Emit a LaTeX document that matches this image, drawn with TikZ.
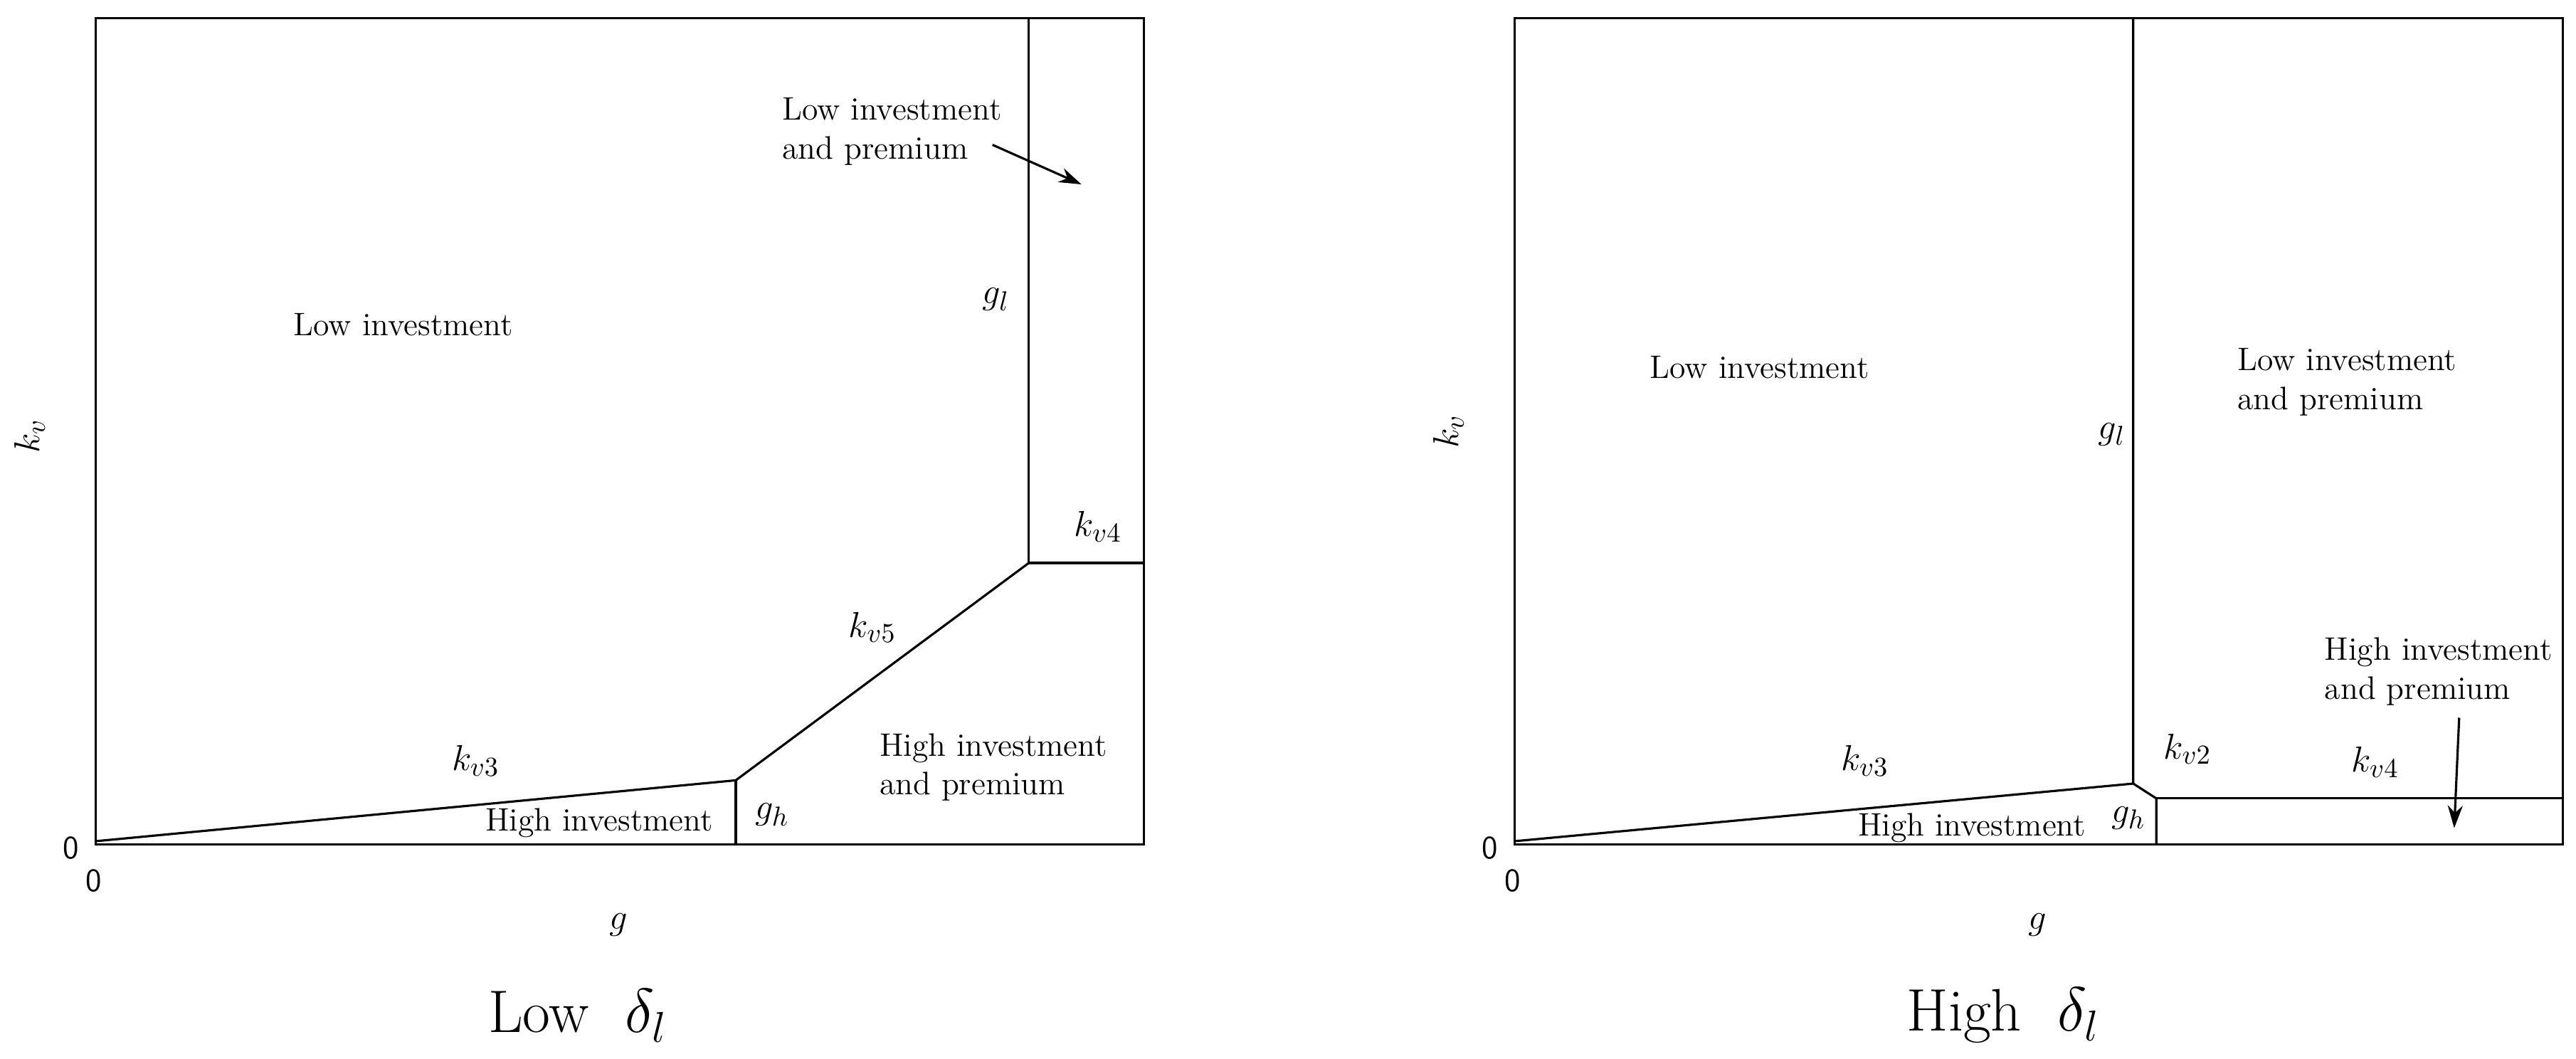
\documentclass[tikz,border=0pt]{standalone}
\usetikzlibrary{arrows.meta}
\begin{document}
\begin{tikzpicture}[x=0.02313cm,y=-0.02313cm,
  lbl/.style={font=\fontsize{13}{15}\selectfont},
  two/.style={font=\fontsize{13}{15.5}\selectfont,align=left,anchor=west},
  ml/.style={font=\fontsize{15}{17}\selectfont},
  zero/.style={font=\sffamily\fontsize{13}{15}\selectfont},
  ttl/.style={font=\fontsize{24}{28}\selectfont},
  ln/.style={line width=0.9pt},
  arr/.style={line width=0.9pt,-{Stealth[length=9pt,width=6pt]}}]
\useasboundingbox (0,0) rectangle (1565,643);
% left panel
\draw[ln] (58,11) rectangle (695,513);
\coordinate (La) at (625,11); \coordinate (Lb) at (625,342); \coordinate (Lc) at (695,342);
\coordinate (Ld) at (447,474); \coordinate (Le) at (58,511); \coordinate (Lf) at (447,513);
\draw[ln] (La) -- (Lb) -- (Lc);
\draw[ln] (Lb) -- (Ld) -- (Le);
\draw[ln] (Ld) -- (Lf);
\node[two] (Llip) at (470,80) {Low investment\\and premium};
\coordinate (Larr) at (657,112);
\draw[arr] (603,88) -- (Larr);
\node[ml] (Lgl) at (605,182) {$g_l$};
\node[lbl] (Lli) at (245,197) {Low investment};
\node[ml,rotate=90] (Lkv) at (18,265) {$k_v$};
\node[ml] (Lk4) at (667,320) {$k_{v4}$};
\node[ml] (Lk5) at (530,381) {$k_{v5}$};
\node[ml] (Lk3) at (289,462) {$k_{v3}$};
\node[lbl] (Lhi) at (364,500) {High investment};
\node[ml] (Lgh) at (469,495) {$g_h$};
\node[two] (Lhip) at (529,466) {High investment\\and premium};
\node[zero] (L0a) at (43,515) {0};
\node[zero] (L0b) at (57,535) {0};
\node[ml] (Lg) at (376,562) {$g$};
\node[ttl] (Lt) at (351,617) {Low\ \ $\delta_l$};
% right panel
\draw[ln] (920,11) rectangle (1557,513);
\coordinate (Ra) at (1296,11); \coordinate (Rb) at (1296,476); \coordinate (Rc) at (1310,485);
\coordinate (Rd) at (1310,513); \coordinate (Re) at (1557,485); \coordinate (Rf) at (920,511);
\draw[ln] (Ra) -- (Rb) -- (Rc) -- (Rd);
\draw[ln] (Rc) -- (Re);
\draw[ln] (Rf) -- (Rb);
\node[lbl] (Rli) at (1069,223) {Low investment};
\node[ml] (Rgl) at (1283,264) {$g_l$};
\node[two] (Rlip) at (1354,232) {Low investment\\and premium};
\node[ml,rotate=90] (Rkv) at (880,262) {$k_v$};
\node[two] (Rhip) at (1407,408) {High investment\\and premium};
\coordinate (Rarr) at (1491,503);
\draw[arr] (1494,436) -- (Rarr);
\node[ml] (Rk2) at (1329,455) {$k_{v2}$};
\node[ml] (Rk4) at (1443,463) {$k_{v4}$};
\node[ml] (Rk3) at (1133,462) {$k_{v3}$};
\node[lbl] (Rhi) at (1198,503) {High investment};
\node[ml] (Rgh) at (1293,497) {$g_h$};
\node[zero] (R0a) at (905,515) {0};
\node[zero] (R0b) at (919,535) {0};
\node[ml] (Rg) at (1238,562) {$g$};
\node[ttl] (Rt) at (1217,617) {High\ \ $\delta_l$};
\end{tikzpicture}
\end{document}
